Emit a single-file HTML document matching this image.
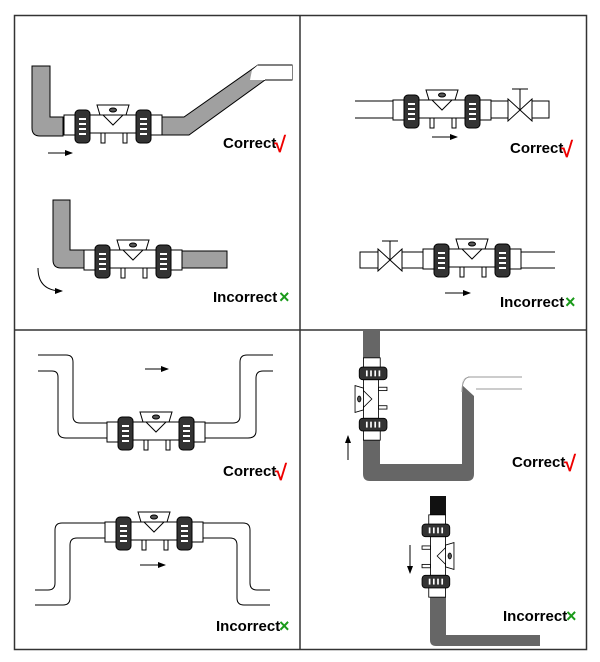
<!DOCTYPE html>
<html><head><meta charset="utf-8"><style>
html,body{margin:0;padding:0;background:#fff;}
svg{display:block;}
text{font-family:"Liberation Sans",sans-serif;font-weight:bold;}
</style></head><body>
<svg width="600" height="662" viewBox="0 0 600 662" xmlns="http://www.w3.org/2000/svg">
<defs>
<g id="v" stroke="#000" stroke-width="1">
  <rect x="-49" y="-9" width="12" height="20" fill="#fff"/>
  <rect x="37" y="-9" width="12" height="20" fill="#fff"/>
  <rect x="-23" y="-9" width="46" height="18" fill="#fff"/>
  <polygon points="-16,-19 16,-19 13,-9 -13,-9" fill="#fff"/>
  <polygon points="-10,-9 10,-9 0,1" fill="#fff"/>
  <ellipse cx="0" cy="-14" rx="3.5" ry="2" fill="#555"/>
  <rect x="-12" y="9" width="4" height="10" fill="#fff"/>
  <rect x="10" y="9" width="4" height="10" fill="#fff"/>
  <rect x="-38" y="-14" width="15" height="33" rx="4" fill="#333"/>
  <rect x="23" y="-14" width="15" height="33" rx="4" fill="#333"/>
  <g fill="#fff" stroke="none">
    <rect x="-34" y="-6" width="7" height="2"/><rect x="-34" y="-1" width="7" height="2"/><rect x="-34" y="4" width="7" height="2"/><rect x="-34" y="9" width="7" height="2"/>
    <rect x="27" y="-6" width="7" height="2"/><rect x="27" y="-1" width="7" height="2"/><rect x="27" y="4" width="7" height="2"/><rect x="27" y="9" width="7" height="2"/>
  </g>
</g>
<marker id="ah" markerWidth="8" markerHeight="6" refX="7" refY="3" orient="auto" markerUnits="userSpaceOnUse"><polygon points="0,0 8,3 0,6" fill="#000"/></marker>
</defs>

<rect x="14.5" y="15.5" width="572" height="634" fill="none" stroke="#333" stroke-width="1.5"/>
<line x1="300" y1="15" x2="300" y2="650" stroke="#333" stroke-width="1.5"/>
<line x1="14" y1="330" x2="587" y2="330" stroke="#333" stroke-width="1.5"/>

<!-- Q1 top -->
<path d="M32,66 H50 V117 H63 V136 H40 Q32,136 32,128 Z" fill="#a0a0a0" stroke="#000"/>
<polygon points="162,117 184,117 258,65 292,65 292,80 265,80 189,135 162,135" fill="#a0a0a0" stroke="#000"/>
<polygon points="252,70 258,65 292,65 292,80 265,80 250,80" fill="#fff"/>
<line x1="258" y1="65" x2="292" y2="65" stroke="#000"/>
<line x1="265" y1="80" x2="292" y2="80" stroke="#000"/>
<use href="#v" x="113" y="124"/>
<line x1="48" y1="153" x2="72" y2="153" stroke="#000" marker-end="url(#ah)"/>
<text x="223" y="148" font-size="15">Correct</text>
<text x="274" y="152" font-size="22" fill="#e00" font-weight="normal">√</text>

<!-- Q1 bottom -->
<path d="M53,200 H70 V250 H84 V268 H61 Q53,268 53,260 Z" fill="#a0a0a0" stroke="#000"/>
<rect x="182" y="251" width="45" height="17" fill="#a0a0a0" stroke="#000"/>
<use href="#v" x="133" y="259"/>
<path d="M38,268 Q38,291 62,291" fill="none" stroke="#000" marker-end="url(#ah)"/>
<text x="213" y="302" font-size="15">Incorrect</text>
<text x="279" y="303" font-size="18" fill="#1a9a1a" font-weight="normal">×</text>

<!-- Q2 top -->
<g stroke="#000" fill="none">
<line x1="355" y1="101" x2="394" y2="101"/><line x1="355" y1="118" x2="394" y2="118"/>
<line x1="490" y1="101" x2="508" y2="101"/><line x1="490" y1="118" x2="508" y2="118"/>
<polygon points="508,99 532,121 532,99 508,121" fill="#fff"/>
<line x1="520" y1="110" x2="520" y2="89"/><line x1="512" y1="89" x2="528" y2="89"/>
<rect x="532" y="101" width="17" height="17" fill="#fff"/>
</g>
<use href="#v" x="442" y="109"/>
<line x1="432" y1="137" x2="457" y2="137" stroke="#000" marker-end="url(#ah)"/>
<text x="510" y="153" font-size="15">Correct</text>
<text x="561" y="157" font-size="22" fill="#e00" font-weight="normal">√</text>

<!-- Q2 bottom -->
<g stroke="#000" fill="none">
<rect x="360" y="252" width="18" height="16" fill="#fff"/>
<polygon points="378,249 402,271 402,249 378,271" fill="#fff"/>
<line x1="390" y1="260" x2="390" y2="241"/><line x1="382" y1="241" x2="398" y2="241"/>
<line x1="402" y1="252" x2="430" y2="252"/><line x1="402" y1="268" x2="430" y2="268"/>
<line x1="516" y1="252" x2="555" y2="252"/><line x1="516" y1="268" x2="555" y2="268"/>
</g>
<use href="#v" x="472" y="258"/>
<line x1="445" y1="293" x2="470" y2="293" stroke="#000" marker-end="url(#ah)"/>
<text x="500" y="307" font-size="15">Incorrect</text>
<text x="565" y="308" font-size="18" fill="#1a9a1a" font-weight="normal">×</text>

<!-- Q3 top -->
<g stroke="#000" fill="none">
<path d="M38,355 H66 Q73,355 73,362 V416 Q73,423 80,423 H108"/>
<path d="M38,371 H52 Q58,371 58,377 V431 Q58,438 66,438 H108"/>
<path d="M204,423 H233 Q240,423 240,416 V362 Q240,355 247,355 H273"/>
<path d="M204,438 H248 Q256,438 256,431 V378 Q256,371 263,371 H273"/>
</g>
<use href="#v" x="156" y="431"/>
<line x1="145" y1="369" x2="168" y2="369" stroke="#000" marker-end="url(#ah)"/>
<text x="223" y="476" font-size="15">Correct</text>
<text x="275" y="480" font-size="22" fill="#e00" font-weight="normal">√</text>

<!-- Q3 bottom -->
<g stroke="#000" fill="none">
<path d="M106,523 H62 Q55,523 55,530 V583 Q55,590 48,590 H35"/>
<path d="M106,538 H77 Q70,538 70,545 V598 Q70,605 63,605 H35"/>
<path d="M202,523 H243 Q250,523 250,530 V583 Q250,590 257,590 H270"/>
<path d="M202,538 H230 Q237,538 237,545 V598 Q237,605 244,605 H270"/>
</g>
<use href="#v" x="154" y="531"/>
<line x1="140" y1="565" x2="165" y2="565" stroke="#000" marker-end="url(#ah)"/>
<text x="216" y="631" font-size="15">Incorrect</text>
<text x="279" y="632" font-size="18" fill="#1a9a1a" font-weight="normal">×</text>

<!-- Q4 top -->
<rect x="363" y="330" width="17" height="32" fill="#666"/>
<path d="M363,438 V474 Q363,481 370,481 H467 Q474,481 474,474 V391 Q474,385 480,385 H522 V377 H470 Q462,377 462,385 V464 H380 V438 Z" fill="#666"/>
<path d="M462,385 Q462,377 470,377 H522 V390 H480 Q474,390 474,396 Z" fill="#fff" stroke="none"/>
<line x1="468" y1="377" x2="522" y2="377" stroke="#999"/>
<line x1="476" y1="389" x2="522" y2="389" stroke="#999"/>
<path d="M462,392 Q462,377 470,377" fill="none" stroke="#999"/>
<use href="#v" transform="translate(371,399) rotate(-90) scale(0.84)"/>
<line x1="348" y1="460" x2="348" y2="436" stroke="#000" marker-end="url(#ah)"/>
<text x="512" y="467" font-size="15">Correct</text>
<text x="564" y="471" font-size="22" fill="#e00" font-weight="normal">√</text>

<!-- Q4 bottom -->
<rect x="430" y="496" width="16" height="22" fill="#111"/>
<path d="M430,594 V640 Q430,646 436,646 H540 V635 H446 V594 Z" fill="#666"/>
<use href="#v" transform="translate(438,556) rotate(90) scale(0.84)"/>
<line x1="410" y1="545" x2="410" y2="573" stroke="#000" marker-end="url(#ah)"/>
<text x="503" y="621" font-size="15">Incorrect</text>
<text x="566" y="622" font-size="18" fill="#1a9a1a" font-weight="normal">×</text>
</svg>
</body></html>
